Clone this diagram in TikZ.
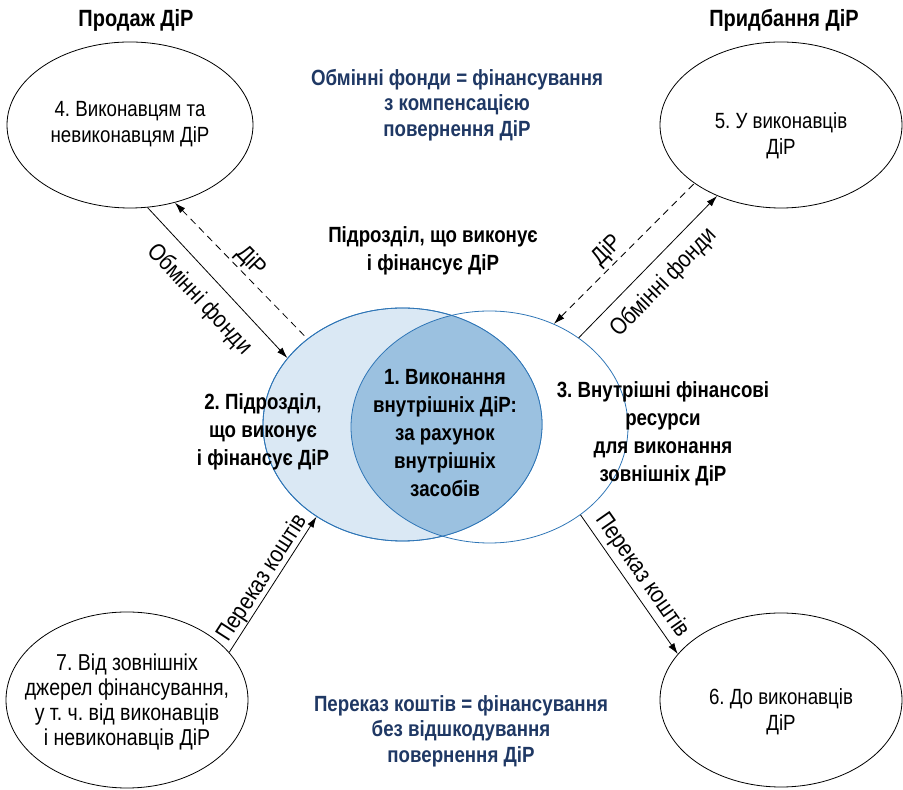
\documentclass[tikz,border=0pt]{standalone}
\usepackage{fontspec}
\setmainfont{Liberation Sans}[FakeStretch=0.85]
\usepackage{tikz}
\usetikzlibrary{shapes,arrows,arrows.meta,positioning,calc}
\usepackage{xcolor}
\definecolor{vennline}{HTML}{2E75B6}
\definecolor{vennlight}{HTML}{DAE8F4}
\definecolor{venndark}{HTML}{9BC1E0}
\definecolor{navytext}{HTML}{1F3864}
\frenchspacing

\begin{document}
\begin{tikzpicture}[x=1pt,y=1pt,>={Latex[length=11pt,width=7pt]},thick]
\tikzstyle{party}=[ellipse,draw=black,inner sep=0pt]
\tikzstyle{unit}=[ellipse,draw=vennline,inner sep=0pt]
\tikzstyle{plain}=[align=center,font=\fontsize{22}{26}\selectfont]
\tikzstyle{heading}=[align=center,font=\bfseries\fontsize{22}{28}\selectfont]
\tikzstyle{title}=[font=\bfseries\fontsize{23.5}{28}\selectfont]
\tikzstyle{note}=[align=center,text=navytext,font=\bfseries\fontsize{22}{25.5}\selectfont]
\tikzstyle{flow}=[font=\fontsize{24}{28}\selectfont,sloped]
\useasboundingbox (0,0) rectangle (903,790);

% outside parties
\node[party,minimum width=246pt,minimum height=166pt] (sell) at (130,665) {};
\node[party,minimum width=242pt,minimum height=166pt] (buy) at (781,665) {};
\node[party,minimum width=242pt,minimum height=176pt] (src) at (127,90) {};
\node[party,minimum width=242pt,minimum height=174pt] (dst) at (781,90) {};

% the unit: two overlapping ellipses
\node[unit,fill=vennlight,minimum width=279pt,minimum height=233pt] (own) at (402.5,365.5) {};
\begin{scope}
  \clip (own.center) ellipse (139.5 and 116.5);
  \fill[venndark] (489.5,363) ellipse (138.5 and 116);
\end{scope}
\node[unit,minimum width=277pt,minimum height=232pt] (ext) at (489.5,363) {};
\draw[vennline] (own.center) ellipse (139.5 and 116.5);

% texts
\node[title] (selltitle) at (136,770) {Продаж ДіР};
\node[title] (buytitle) at (784,770) {Придбання ДіР};
\node[note] (swapnote) at (457,685) {Обмінні фонди = фінансування\\з компенсацією\\повернення ДіР};
\node[heading] (unittitle) at (433,539) {Підрозділ, що виконує\\і фінансує ДіР};
\node[heading] (owntext) at (263,358) {2. Підрозділ,\\що виконує\\і фінансує ДіР};
\node[heading] (inner) at (445,357) {1. Виконання\\внутрішніх ДіР:\\за рахунок\\внутрішніх\\засобів};
\node[heading] (exttext) at (663,356) {3. Внутрішні фінансові\\ресурси\\для виконання\\зовнішніх ДіР};
\node[note] (transfernote) at (461,59) {Переказ коштів = фінансування\\без відшкодування\\повернення ДіР};
\node[plain] (selltext) at (130,666) {4. Виконавцям та\\невиконавцям ДіР};
\node[plain] (buytext) at (781,654) {5. У виконавців\\ДіР};
\node[plain] (dsttext) at (781,78) {6. До виконавців\\ДіР};
\node[plain,font=\fontsize{23}{25}\selectfont] (srctext) at (127,88) {7. Від зовнішніх\\джерел фінансування,\\у т. ч. від виконавців\\і невиконавців ДіР};

% flows
\draw[->] (sell.-78) -- node[flow,below,inner sep=13pt] {Обмінні фонди} (own.150.8);
\draw[<-,dash pattern=on 7pt off 5pt] (sell.-60) -- node[flow,above,inner sep=2pt] {ДіР} (own.138.2);
\draw[<-,dash pattern=on 7pt off 5pt] (ext.58.8) -- node[flow,above,pos=0.45,inner sep=3pt] {ДіР} (buy.214.2);
\draw[->] (ext.45.5) -- node[flow,below,inner sep=11pt] {Обмінні фонди} (buy.228.9);
\draw[->] (src.25.9) -- node[flow,above,inner sep=0pt] {Переказ коштів} (own.227.6);
\draw[->] (ext.-44.5) -- node[flow,above,inner sep=4pt] {Переказ коштів} (dst.156.4);
\end{tikzpicture}
\end{document}
